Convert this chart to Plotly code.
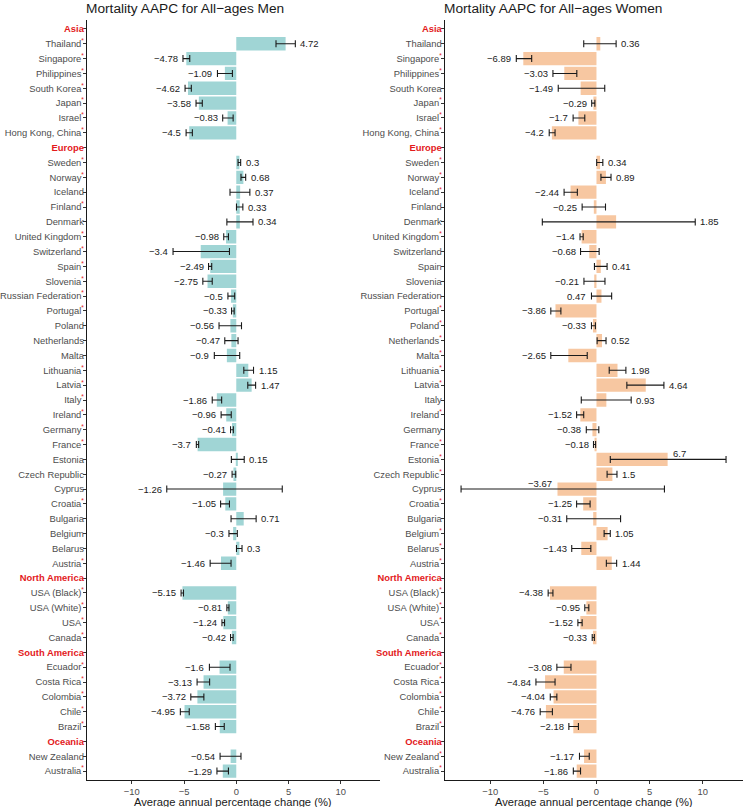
import plotly.graph_objects as go

# ---------------- data ----------------
regions = ["Asia", "Europe", "North America", "South America", "Oceania"]
region_countries = {
    "Asia": ["Thailand", "Singapore", "Philippines", "South Korea", "Japan", "Israel", "Hong Kong, China"],
    "Europe": ["Sweden", "Norway", "Iceland", "Finland", "Denmark", "United Kingdom", "Switzerland", "Spain",
               "Slovenia", "Russian Federation", "Portugal", "Poland", "Netherlands", "Malta", "Lithuania",
               "Latvia", "Italy", "Ireland", "Germany", "France", "Estonia", "Czech Republic", "Cyprus",
               "Croatia", "Bulgaria", "Belgium", "Belarus", "Austria"],
    "North America": ["USA (Black)", "USA (White)", "USA", "Canada"],
    "South America": ["Ecuador", "Costa Rica", "Colombia", "Chile", "Brazil"],
    "Oceania": ["New Zealand", "Australia"],
}

# Men (country order as above)
men_aapc = [4.72, -4.78, -1.09, -4.62, -3.58, -0.83, -4.5,
            0.3, 0.68, 0.37, 0.33, 0.34, -0.98, -3.4, -2.49, -2.75, -0.5, -0.33, -0.56, -0.47, -0.9,
            1.15, 1.47, -1.86, -0.96, -0.41, -3.7, 0.15, -0.27, -1.26, -1.05, 0.71, -0.3, 0.3, -1.46,
            -5.15, -0.81, -1.24, -0.42,
            -1.6, -3.13, -3.72, -4.95, -1.58,
            -0.54, -1.29]
men_lo = [3.8, -5.1, -1.8, -4.9, -3.85, -1.3, -4.8,
          0.17, 0.45, -0.6, 0.02, -0.9, -1.2, -6.05, -2.65, -3.2, -0.8, -0.45, -1.65, -1.1, -2.1,
          0.72, 1.1, -2.3, -1.45, -0.55, -3.82, -0.47, -0.4, -6.65, -1.5, -0.5, -0.7, 0.02, -2.5,
          -5.28, -0.9, -1.37, -0.55,
          -2.57, -3.75, -4.35, -5.35, -2.0,
          -1.55, -1.85]
men_hi = [5.65, -4.45, -0.37, -4.3, -3.25, -0.3, -4.2,
          0.42, 0.9, 1.3, 0.63, 1.6, -0.75, -0.65, -2.35, -2.3, -0.15, -0.2, 0.5, 0.17, 0.33,
          1.65, 1.85, -1.4, -0.48, -0.28, -3.6, 0.76, -0.05, 4.4, -0.65, 1.9, 0.1, 0.55, -0.5,
          -5.05, -0.7, -1.12, -0.3,
          -0.6, -2.55, -3.1, -4.5, -1.15,
          0.45, -0.75]
men_sig = [1, 1, 1, 1, 1, 1, 1,
           1, 1, 0, 1, 0, 1, 1, 1, 1, 1, 1, 0, 0, 0,
           1, 1, 1, 1, 1, 1, 0, 0, 0, 1, 0, 0, 0, 1,
           1, 1, 1, 1,
           1, 1, 1, 1, 1,
           0, 1]

# Women
women_aapc = [0.36, -6.89, -3.03, -1.49, -0.29, -1.7, -4.2,
              0.34, 0.89, -2.44, -0.25, 1.85, -1.4, -0.68, 0.41, -0.21, 0.47, -3.86, -0.33, 0.52, -2.65,
              1.98, 4.64, 0.93, -1.52, -0.38, -0.18, 6.7, 1.5, -3.67, -1.25, -0.31, 1.05, -1.43, 1.44,
              -4.38, -0.95, -1.52, -0.33,
              -3.08, -4.84, -4.04, -4.76, -2.18,
              -1.17, -1.86]
women_lo = [-1.2, -7.55, -4.1, -3.6, -0.45, -2.2, -4.45,
            0.02, 0.42, -3.05, -1.35, -5.1, -1.55, -1.5, -0.19, -1.18, -0.47, -4.3, -0.47, 0.06, -4.3,
            1.2, 2.86, -1.43, -1.87, -0.96, -0.28, 1.3, 1.0, -12.75, -1.87, -2.8, 0.72, -2.33, 0.93,
            -4.55, -1.1, -1.75, -0.4,
            -3.73, -5.7, -4.35, -5.3, -2.6,
            -1.6, -2.18]
women_hi = [1.85, -6.1, -1.85, 0.78, -0.15, -1.1, -3.9,
            0.6, 1.37, -1.8, 0.85, 9.3, -1.25, 0.25, 1.0, 0.8, 1.43, -3.35, -0.1, 0.9, -0.87,
            2.77, 6.35, 3.27, -1.2, 0.22, -0.08, 12.2, 1.93, 6.4, -0.6, 2.27, 1.3, -0.53, 1.9,
            -4.1, -0.72, -1.35, -0.2,
            -2.4, -3.9, -3.73, -4.15, -1.7,
            -0.68, -1.5]
women_sig = [0, 1, 1, 0, 1, 1, 1,
             1, 1, 1, 0, 0, 1, 0, 0, 0, 0, 1, 1, 1, 1,
             1, 1, 0, 1, 0, 1, 1, 1, 0, 1, 0, 1, 1, 1,
             1, 1, 1, 1,
             1, 1, 1, 1, 1,
             1, 1]

# label placement exceptions (women panel)
women_label_side = {"Russian Federation": "left", "Estonia": "above", "Cyprus": "above"}

x_ticks = [-10, -5, 0, 5, 10]
titles = ["Mortality AAPC for All\u2212ages Men", "Mortality AAPC for All\u2212ages Women"]
x_title = "Average annual percentage change (%)"

# ---------------- styles ----------------
RED = "#E31A1C"
MEN_COL = "#A0D5D5"
WOMEN_COL = "#F7C7A1"
FONT = "Liberation Sans"
W, H = 743, 807

# build rows
rows = []          # (label, is_header)
countries = []
for r in regions:
    rows.append((r, True))
    for c in region_countries[r]:
        rows.append((c, False))
        countries.append(c)
row_idx = {}
for i, (lab, hdr) in enumerate(rows):
    if not hdr:
        row_idx[lab] = i
cy = [row_idx[c] for c in countries]


def ticktexts(sig):
    sig_map = dict(zip(countries, sig))
    out = []
    for lab, hdr in rows:
        if hdr:
            out.append(f"<b><span style='color:{RED}'>{lab}</span></b>")
        elif sig_map[lab]:
            out.append(f"{lab}<span style='color:{RED}'><sup>*</sup></span>")
        else:
            out.append(lab)
    return out


def fmt(v):
    s = f"{abs(v):g}"
    return ("\u2212" + s) if v < 0 else s


fig = go.Figure()
panels = [
    ("x", "y", men_aapc, men_lo, men_hi, men_sig, MEN_COL, {}),
    ("x2", "y2", women_aapc, women_lo, women_hi, women_sig, WOMEN_COL, women_label_side),
]
annotations = []
for xa, ya, vals, lo, hi, sig, col, sides in panels:
    fig.add_trace(go.Bar(
        x=vals, y=cy, orientation="h", xaxis=xa, yaxis=ya, width=0.9,
        marker=dict(color=col, line=dict(width=0)),
        error_x=dict(type="data", symmetric=False,
                     array=[h - v for h, v in zip(hi, vals)],
                     arrayminus=[v - l for v, l in zip(vals, lo)],
                     color="#1a1a1a", thickness=1.1, width=3.5),
        hoverinfo="skip",
    ))
    for c, v, l, h, y in zip(countries, vals, lo, hi, cy):
        side = sides.get(c, "left" if v < 0 else "right")
        a = dict(xref=xa, yref=ya, y=y, text=fmt(v), showarrow=False,
                 font=dict(family=FONT, size=9.5, color="#1a1a1a"), yanchor="middle")
        if side == "left":
            a.update(x=l, xanchor="right", xshift=-3)
        elif side == "right":
            a.update(x=h, xanchor="left", xshift=3)
        else:  # above, at bar end
            if v < 0:
                a.update(x=v, xanchor="right", xshift=-3, yshift=6)
            else:
                a.update(x=v, xanchor="left", xshift=3, yshift=6)
        annotations.append(a)

n = len(rows)
ydom = [1 - 780 / H, 1 - 20 / H]
xrange_ = [-14.3, 13.75]
axis_common = dict(showgrid=False, zeroline=False, showline=True, linecolor="#1a1a1a", linewidth=1,
                   ticks="outside", ticklen=3, tickcolor="#333333", tickwidth=1,
                   tickfont=dict(family=FONT, size=9.4, color="#4d4d4d"), automargin=False)

fig.update_layout(
    width=W, height=H, margin=dict(l=0, r=0, t=0, b=0),
    plot_bgcolor="white", paper_bgcolor="white", showlegend=False,
    font=dict(family=FONT),
    xaxis=dict(domain=[86.8 / W, 380 / W], range=xrange_, tickvals=x_ticks, anchor="y", **axis_common),
    xaxis2=dict(domain=[444.6 / W, 742.5 / W], range=xrange_, tickvals=x_ticks, anchor="y2", **axis_common),
    yaxis=dict(domain=ydom, range=[n - 1 + 0.6, -0.6], tickvals=list(range(n)), ticktext=ticktexts(men_sig),
               anchor="x", ticklabelstandoff=-3, **axis_common),
    yaxis2=dict(domain=ydom, range=[n - 1 + 0.6, -0.6], tickvals=list(range(n)), ticktext=ticktexts(women_sig),
                anchor="x2", ticklabelstandoff=-3, **axis_common),
)

# titles and axis titles
for t, cx in zip(titles, [185 / W, 553 / W]):
    annotations.append(dict(xref="paper", yref="paper", x=cx, y=1 - 8.5 / H, text=t, showarrow=False,
                            xanchor="center", yanchor="middle",
                            font=dict(family=FONT, size=13.7, color="#1a1a1a")))
for cx in [(86.8 + 380) / 2 / W, (444.6 + 742.5) / 2 / W]:
    annotations.append(dict(xref="paper", yref="paper", x=cx, y=1 - 801.5 / H, text=x_title, showarrow=False,
                            xanchor="center", yanchor="middle",
                            font=dict(family=FONT, size=11.2, color="#1a1a1a")))
fig.update_layout(annotations=annotations)

fig.write_html("out.html", config={"displayModeBar": False},
               post_script="document.body.style.margin='0';document.body.style.overflow='hidden';")
